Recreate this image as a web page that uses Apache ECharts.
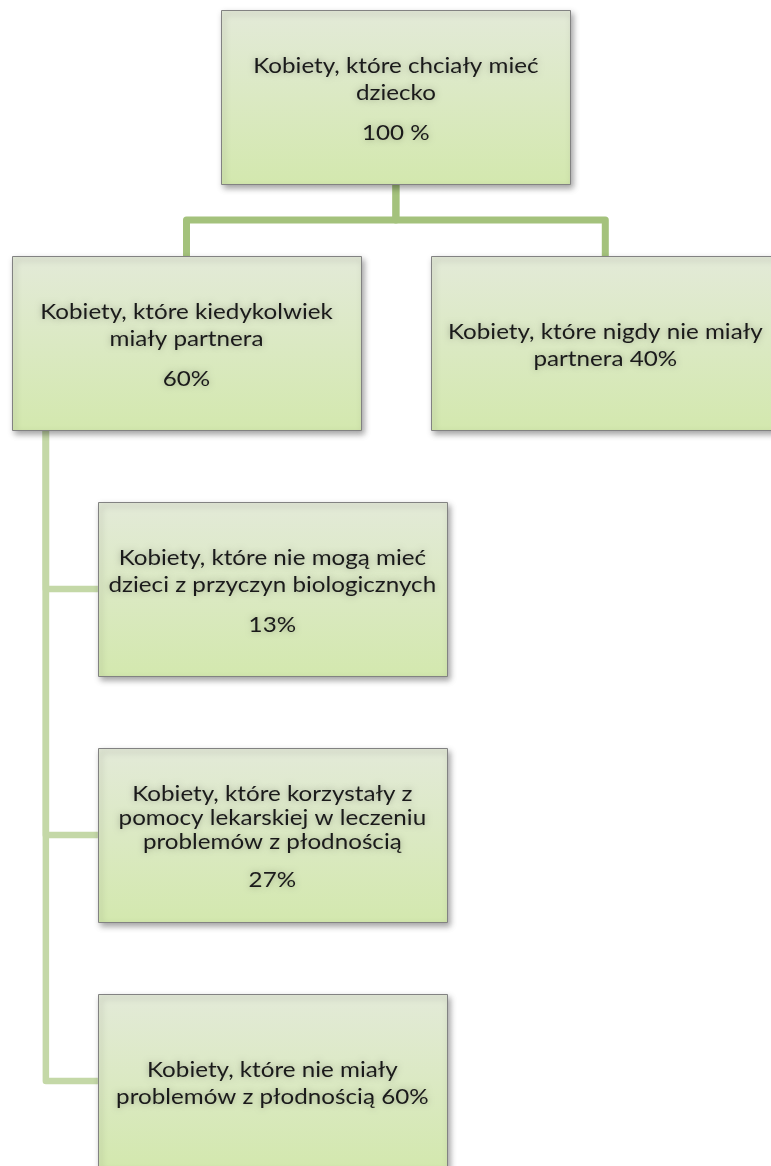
<!DOCTYPE html>
<html><head><meta charset="utf-8">
<style>html,body{margin:0;padding:0;background:#fff}#chart{width:771px;height:1166px}</style>
<script src="https://cdn.jsdelivr.net/npm/echarts@6/dist/echarts.min.js"></script>
</head><body><div id="chart"></div>
<script>
// ---- data ----
const nodeLabels = [
  'Kobiety, które chciały mieć\ndziecko',
  'Kobiety, które kiedykolwiek\nmiały partnera',
  'Kobiety, które nigdy nie miały\npartnera',
  'Kobiety, które nie mogą mieć\ndzieci z przyczyn biologicznych',
  'Kobiety, które korzystały z\npomocy lekarskiej w leczeniu\nproblemów z płodnością',
  'Kobiety, które nie miały\nproblemów z płodnością'
];
const nodeShares = [100, 60, 40, 13, 27, 60];
const shareSuffix = [' %', '%', '%', '%', '%', '%'];
const shareInline = [false, false, true, false, false, true];
const nodeParents = [-1, 0, 0, 1, 1, 1];

// ---- layout parameters ----
const BOX_W = 1, GAP = 0.2, INDENT = 0.246, SPINE = 0.097, BOX_H = 0.707;
const UNIT_PX = 349, ROW_PX = 246, GRID_LEFT = 12, GRID_TOP = 10;
const FONT = '22px Lato', TEXT_SX = 1.1;
const TEXT_OFF = 2;

const children = nodeParents.map((_, i) => nodeParents.map((p, j) => p === i ? j : -1).filter(j => j >= 0));
const root = nodeParents.indexOf(-1);
const pos = [];
const lvl1 = children[root];
lvl1.forEach((c, k) => { pos[c] = { x: k * (BOX_W + GAP), row: 1 }; });
pos[root] = { x: (pos[lvl1[0]].x + pos[lvl1[lvl1.length - 1]].x) / 2, row: 0 };
function hang(n) {
  children[n].forEach((c, j) => {
    pos[c] = { x: pos[n].x + INDENT, row: pos[n].row + 1 + j };
    hang(c);
  });
}
lvl1.forEach(hang);

const boxData = nodeLabels.map((name, i) => ({ name, value: [pos[i].x, pos[i].row, nodeShares[i]] }));
const edgeData = nodeParents.map((p, i) => p < 0 ? null : { value: [pos[i].x, pos[i].row, pos[p].x, pos[p].row, i] }).filter(Boolean);

const el = document.getElementById('chart');
const chart = echarts.init(el, null, { renderer: 'canvas' });
const xMax = (el.clientWidth - GRID_LEFT) / UNIT_PX;
const yMax = (el.clientHeight - GRID_TOP) / ROW_PX;
chart.setOption({
  animation: false,
  backgroundColor: '#ffffff',
  grid: { left: GRID_LEFT, top: GRID_TOP, right: 0, bottom: 0 },
  xAxis: { type: 'value', min: 0, max: xMax, show: false },
  yAxis: { type: 'value', min: 0, max: yMax, inverse: true, show: false },
  series: [
    {
      type: 'custom', z: 1, clip: false, data: edgeData,
      renderItem(params, api) {
        const cx = api.value(0), cr = api.value(1), px = api.value(2), pr = api.value(3);
        const idx = api.value(4);
        let pts, color, lw;
        if (nodeParents[idx] === root) {
          const mid = pr + BOX_H + (cr - pr - BOX_H) / 2;
          pts = [[px + BOX_W / 2, pr + BOX_H], [px + BOX_W / 2, mid], [cx + BOX_W / 2, mid], [cx + BOX_W / 2, cr]];
          color = '#a4c27c'; lw = 7;
        } else {
          const sx = px + SPINE;
          pts = [[sx, pr + BOX_H], [sx, cr + BOX_H / 2], [cx, cr + BOX_H / 2]];
          color = '#c4d8a7'; lw = 6.5;
        }
        return {
          type: 'polyline',
          shape: { points: pts.map(p => api.coord(p)) },
          style: { stroke: color, lineWidth: lw, fill: null, lineJoin: 'round', lineCap: 'butt' }
        };
      }
    },
    {
      type: 'custom', z: 2, clip: false, data: boxData,
      renderItem(params, api) {
        const i = params.dataIndex;
        const p0 = api.coord([api.value(0), api.value(1)]);
        const p1 = api.coord([api.value(0) + BOX_W, api.value(1) + BOX_H]);
        const w = p1[0] - p0[0], h = p1[1] - p0[1];
        const cx = p0[0] + w / 2, cy = p0[1] + h / 2;
        const share = api.value(2) + shareSuffix[i];
        const lines = nodeLabels[i].split('\n');
        let pct = null;
        if (shareInline[i]) lines[lines.length - 1] += ' ' + share; else pct = share;
        const lineH = lines.length > 2 ? 24 : 27;
        const pGap = lines.length > 2 ? 38 : 40;
        const span = (lines.length - 1) * lineH + (pct ? pGap : 0);
        let y = cy - span / 2 + TEXT_OFF;
        const items = [{
          type: 'rect',
          shape: { x: Math.round(p0[0]) + 0.5, y: Math.round(p0[1]) + 0.5, width: Math.round(w), height: Math.round(h) },
          style: {
            fill: new echarts.graphic.LinearGradient(0, 0, 0, 1, [
              { offset: 0, color: '#e3ead8' }, { offset: 1, color: '#d3e8ae' }
            ]),
            stroke: '#828282', lineWidth: 1,
            shadowBlur: 6, shadowOffsetX: 2, shadowOffsetY: 3, shadowColor: 'rgba(0,0,0,0.35)'
          }
        }];
        const txt = (t, yy) => ({
          type: 'text', x: cx, y: yy, scaleX: TEXT_SX,
          style: {
            text: t, x: 0, y: 0, align: 'center', verticalAlign: 'middle',
            font: FONT, fill: '#1a1a1a',
            textShadowBlur: 6, textShadowColor: 'rgba(0,0,0,0.3)'
          }
        });
        lines.forEach(l => { items.push(txt(l, y)); y += lineH; });
        if (pct) items.push(txt(pct, y - lineH + pGap));
        return { type: 'group', children: items };
      }
    }
  ]
});
</script>
</body></html>
